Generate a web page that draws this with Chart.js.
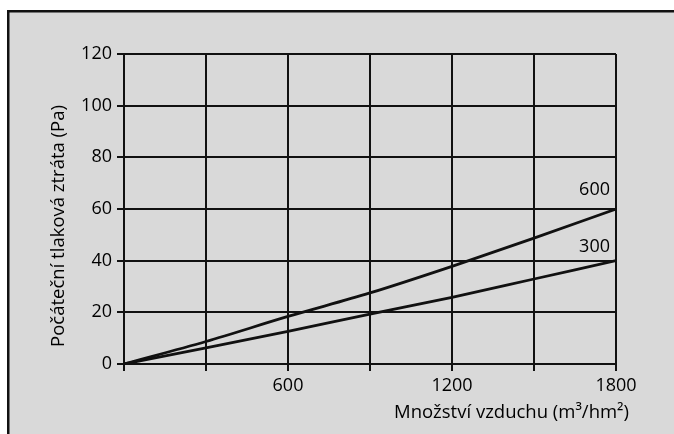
<!DOCTYPE html>
<html>
<head>
<meta charset="utf-8">
<script src="https://cdn.jsdelivr.net/npm/chart.js@4.4.1/dist/chart.umd.min.js"></script>
<style>
	html, body { margin: 0; padding: 0; background: #fff; }
	#wrap { width: 674px; height: 434px; position: relative; }
</style>
</head>
<body>
<div id="wrap"><canvas id="chart" width="674" height="434"></canvas></div>
<script>
// airflow (x) and initial pressure loss (y) for the two curves
const airflow = [0, 300, 600, 900, 1200, 1500, 1800]
const loss600 = [0, 8.7, 18.4, 27.5, 37.8, 48.7, 60]
const loss300 = [0, 6.2, 12.6, 19.3, 25.8, 32.9, 40]
const seriesNames = ["600", "300"]
const xLabelled = [600, 1200, 1800]

const yTitle = "Počáteční tlaková ztráta (Pa)"
const xTitle = "Množství vzduchu (m³/hm²)"

const FONT = "'Open Sans', 'DejaVu Sans', sans-serif"
const INK = "#000"

const toPoints = (ys) => airflow.map((x, i) => ({ x: x, y: ys[i] }))

// grey panel with black frame on top and left
const panel = {
	id: "panel",
	beforeDraw(chart) {
		const c = chart.ctx
		c.save()
		c.fillStyle = "#fff"
		c.fillRect(0, 0, chart.width, chart.height)
		c.fillStyle = "#d9d9d9"
		c.fillRect(7, 10, chart.width - 7, chart.height - 10)
		c.fillStyle = "#111"
		c.fillRect(7, 10, chart.width - 7, 2.5)
		c.fillRect(7, 10, 2.5, chart.height - 10)
		c.restore()
	},
}

// axis titles and curve labels
const labels = {
	id: "labels",
	afterDraw(chart) {
		const c = chart.ctx
		const xs = chart.scales.x
		const ys = chart.scales.y
		c.save()
		c.fillStyle = INK
		c.font = "18px " + FONT
		c.textBaseline = "middle"

		c.textAlign = "right"
		c.fillText(seriesNames[0], xs.getPixelForValue(1800) - 6, ys.getPixelForValue(60) - 19)
		c.fillText(seriesNames[1], xs.getPixelForValue(1800) - 6, ys.getPixelForValue(40) - 14)

		c.font = "18.5px " + FONT
		c.textBaseline = "alphabetic"
		c.fillText(xTitle, 629, 418)

		c.translate(59, 226)
		c.rotate(-Math.PI / 2)
		c.textAlign = "center"
		c.textBaseline = "middle"
		c.fillText(yTitle, 0, 0)
		c.restore()
	},
}

const lineStyle = {
	borderColor: "#111",
	backgroundColor: "#111",
	borderWidth: 2.8,
	pointRadius: 0,
	cubicInterpolationMode: "monotone",
	fill: false,
}

new Chart(document.getElementById("chart"), {
	type: "line",
	data: {
		datasets: [
			Object.assign({ label: seriesNames[0], data: toPoints(loss600) }, lineStyle),
			Object.assign({ label: seriesNames[1], data: toPoints(loss300) }, lineStyle),
		],
	},
	options: {
		responsive: false,
		animation: false,
		devicePixelRatio: 1,
		layout: { padding: { top: 54, right: 58, bottom: 0, left: 0 } },
		plugins: {
			legend: { display: false },
			tooltip: { enabled: false },
		},
		scales: {
			x: {
				type: "linear",
				min: 0,
				max: 1800,
				afterFit: (s) => { s.height = 70 },
				ticks: {
					stepSize: 300,
					color: INK,
					padding: 4,
					maxRotation: 0,
					font: { family: FONT, size: 18 },
					callback: (v) => (xLabelled.includes(v) ? String(v) : ""),
				},
				grid: { color: "#111", lineWidth: 2, tickLength: 7 },
				border: { color: "#111", width: 2 },
			},
			y: {
				min: 0,
				max: 120,
				afterFit: (s) => { s.width = 124 },
				ticks: {
					stepSize: 20,
					color: INK,
					padding: 5,
					font: { family: FONT, size: 18 },
				},
				grid: { color: "#111", lineWidth: 2, tickLength: 7 },
				border: { color: "#111", width: 2 },
			},
		},
	},
	plugins: [panel, labels],
})
</script>
</body>
</html>
